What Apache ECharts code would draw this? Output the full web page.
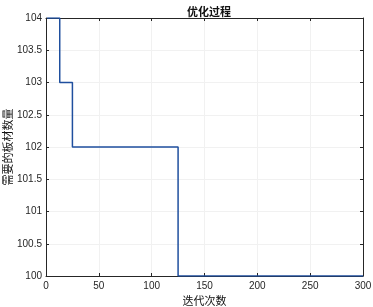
<!DOCTYPE html>
<html>
<head>
<meta charset="utf-8">
<script src="https://cdn.jsdelivr.net/npm/echarts@6/dist/echarts.min.js"></script>
<style>html,body{margin:0;padding:0;background:#fff}#c{width:373px;height:307px}</style>
</head>
<body>
<div id="c"></div>
<script>
const iterations = [1, 13, 25, 125, 300];
const boardCounts = [104, 103, 102, 100, 100];
const titleText = '优化过程';
const xName = '迭代次数';
const yName = '需要的板材数量';

const chart = echarts.init(document.getElementById('c'), null, {renderer: 'canvas'});
const axisColor = '#262626';
const font = 'Liberation Sans, Arial, sans-serif';
const cjk = 'Noto Sans CJK SC, sans-serif';
const baseX = {
  type: 'value', min: 0, max: 300, interval: 50,
  axisLine: {show: true, onZero: false, lineStyle: {color: axisColor, width: 1}},
  axisTick: {show: true, inside: true, length: 3, lineStyle: {color: axisColor}},
  splitLine: {show: false}
};
const baseY = {
  type: 'value', min: 100, max: 104, interval: 0.5,
  axisLine: {show: true, onZero: false, lineStyle: {color: axisColor, width: 1}},
  axisTick: {show: true, inside: true, length: 3, lineStyle: {color: axisColor}},
  splitLine: {show: false}
};
chart.setOption({
  animation: false,
  title: {text: titleText, left: 204, top: 1, textAlign: 'center',
    textStyle: {fontFamily: cjk, fontSize: 11, fontWeight: 'bold', color: '#111'}},
  grid: {left: 46, right: 10, top: 18, bottom: 31, containLabel: false, outerBoundsMode: 'none'},
  xAxis: [
    Object.assign({}, baseX, {position: 'bottom', name: xName, nameLocation: 'middle', nameGap: 19,
      nameMoveOverlap: false,
      nameTextStyle: {fontFamily: cjk, fontSize: 11, color: '#111'},
      axisLabel: {fontFamily: font, fontSize: 10, color: '#262626', margin: 5},
      splitLine: {show: true, lineStyle: {color: '#f1f1f1', width: 1}}}),
    Object.assign({}, baseX, {position: 'top', axisLabel: {show: false}})
  ],
  yAxis: [
    Object.assign({}, baseY, {position: 'left', name: yName, nameLocation: 'middle', nameGap: 33,
      nameMoveOverlap: false,
      nameTextStyle: {fontFamily: cjk, fontSize: 11, color: '#111'},
      axisLabel: {fontFamily: font, fontSize: 10, color: '#262626', margin: 4},
      splitLine: {show: true, lineStyle: {color: '#f1f1f1', width: 1}}}),
    Object.assign({}, baseY, {position: 'right', axisLabel: {show: false}})
  ],
  series: [{
    type: 'line', step: 'end', symbol: 'none',
    data: iterations.map((x, i) => [x, boardCounts[i]]),
    lineStyle: {color: '#1f4f9e', width: 1.5}
  }]
});
</script>
</body>
</html>
